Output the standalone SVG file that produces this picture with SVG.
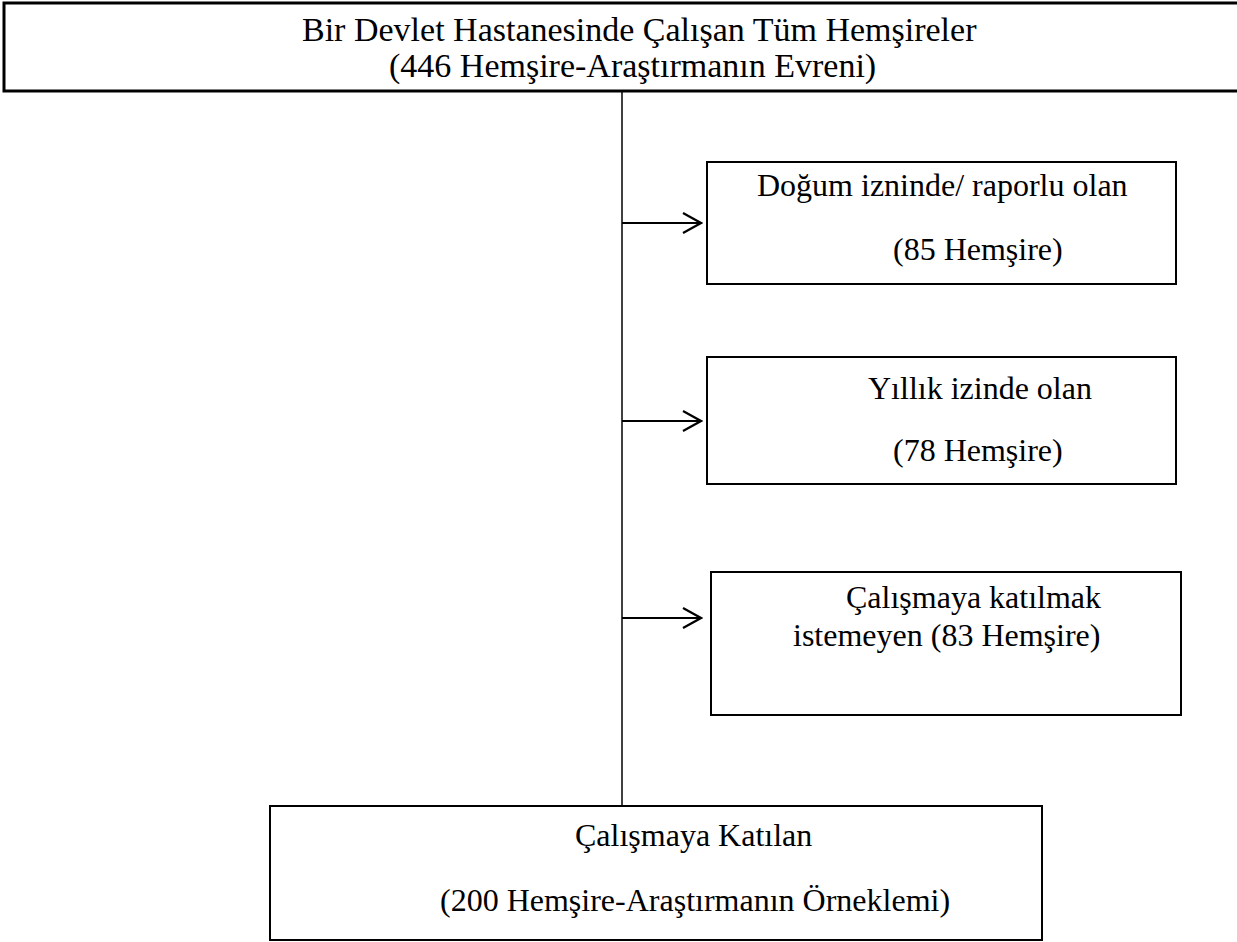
<svg xmlns="http://www.w3.org/2000/svg" width="1237" height="942" viewBox="0 0 1237 942">
<defs>
<style>
.box{fill:#fff;stroke:#000;stroke-width:2}
.top{fill:#fff;stroke:#000;stroke-width:3}
.t{font-family:"Liberation Serif","Times New Roman",serif;font-size:32px;fill:#000}
.tt{font-family:"Liberation Serif","Times New Roman",serif;font-size:34px;fill:#000}
.ln{stroke:#000;stroke-width:1.5;fill:none}
.ar{stroke:#000;stroke-width:2;fill:none}
</style>
<marker id="chev" viewBox="0 0 22 22" markerWidth="22" markerHeight="22" refX="20" refY="11" orient="auto" markerUnits="userSpaceOnUse">
<path d="M2 1 L20 11 L2 21" fill="none" stroke="#000" stroke-width="2.2"/>
</marker>
</defs>
<rect width="1237" height="942" fill="#fff"/>
<g id="connectors">
<line class="ln" x1="622" y1="92" x2="622" y2="806"/>
<line class="ar" x1="622" y1="223" x2="701" y2="223" marker-end="url(#chev)"/>
<line class="ar" x1="622" y1="421" x2="701" y2="421" marker-end="url(#chev)"/>
<line class="ar" x1="622" y1="618" x2="701" y2="618" marker-end="url(#chev)"/>
</g>
<g id="node-top">
<rect class="top" x="4" y="3" width="1240" height="88"/>
<text class="tt" x="302" y="41">Bir Devlet Hastanesinde Çalışan Tüm Hemşireler</text>
<text class="tt" x="389" y="77">(446 Hemşire-Araştırmanın Evreni)</text>
</g>
<g id="node-dogum">
<rect class="box" x="707" y="162" width="469" height="122"/>
<text class="t" x="757" y="196">Doğum izninde/ raporlu olan</text>
<text class="t" x="893" y="260">(85 Hemşire)</text>
</g>
<g id="node-yillik">
<rect class="box" x="707" y="357" width="469" height="127"/>
<text class="t" x="868" y="399">Yıllık izinde olan</text>
<text class="t" x="893" y="461">(78 Hemşire)</text>
</g>
<g id="node-istemeyen">
<rect class="box" x="711" y="572" width="470" height="143"/>
<text class="t" x="846" y="608">Çalışmaya katılmak</text>
<text class="t" x="793" y="646">istemeyen (83 Hemşire)</text>
</g>
<g id="node-katilan">
<rect class="box" x="270" y="806" width="772" height="134"/>
<text class="t" x="575" y="846">Çalışmaya Katılan</text>
<text class="t" x="440" y="911">(200 Hemşire-Araştırmanın Örneklemi)</text>
</g>
</svg>
